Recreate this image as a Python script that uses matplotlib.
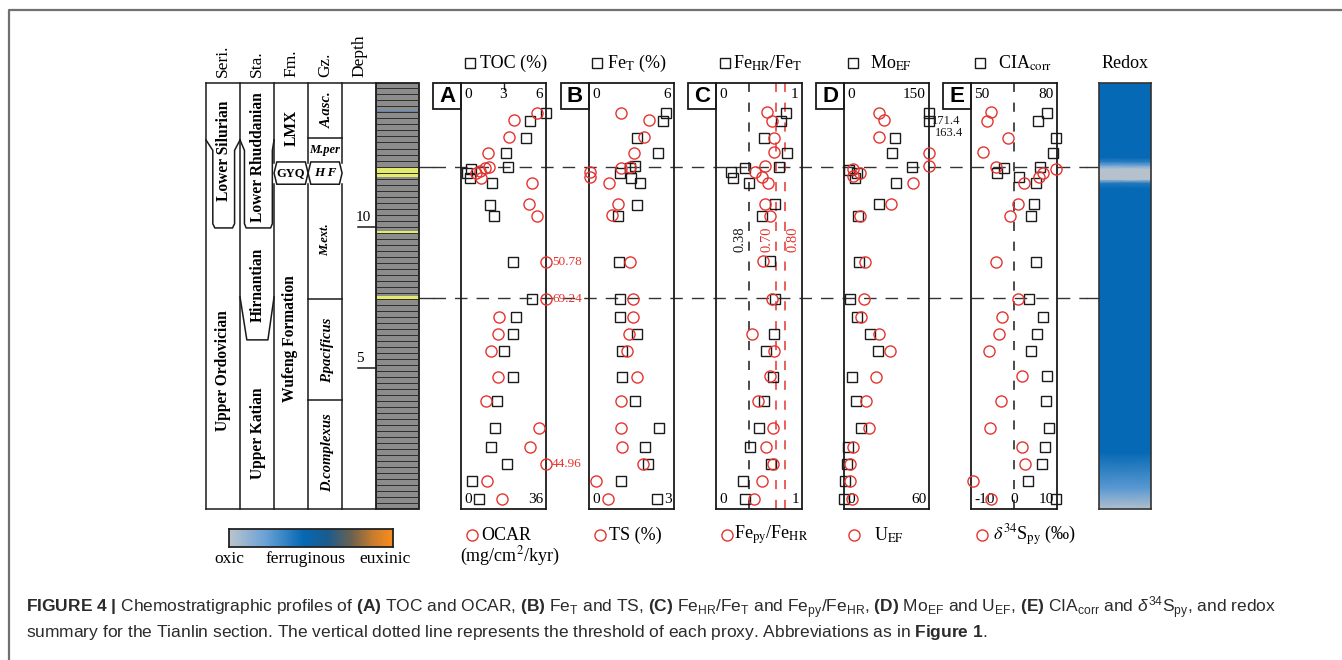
import numpy as np
import matplotlib
matplotlib.use('Agg')
import matplotlib.pyplot as plt
from matplotlib.colors import LinearSegmentedColormap
from matplotlib.patches import Polygon, Rectangle

W, H = 1342, 660
Y_TOP, Y_BOT = 83, 508.5      # pixel rows of the section top / bottom
D_TOP = 15.09                 # depth (m) at the top of the section

# ---- values (depth in m) ----
toc_depth = [14.04, 13.75, 13.15, 12.62, 12.12, 12.03, 11.91, 11.71, 11.53, 10.76, 10.38, 8.75,
             7.43, 6.80, 6.18, 5.60, 4.67, 3.81, 2.84, 2.19, 1.57, 0.98, 0.35]
toc = [6.05, 4.9, 4.6, 3.15, 3.3, 0.7, 0.4, 0.6, 2.2, 2.05, 2.3, 3.65,
       5.0, 3.85, 3.7, 3.05, 3.7, 2.55, 2.4, 2.1, 3.25, 0.8, 1.3]
ocar_depth = [14.04, 13.77, 13.17, 12.62, 12.12, 12.06, 11.97, 11.89, 11.71, 11.55, 10.79, 10.38,
              8.75, 7.43, 6.80, 6.18, 5.60, 4.67, 3.81, 2.84, 2.19, 1.57, 0.98, 0.33]
ocar = [32.0, 22.4, 20.5, 11.6, 12.0, 10.2, 8.0, 6.4, 8.5, 29.9, 28.8, 32.0,
        50.78, 69.24, 16.1, 15.8, 12.8, 15.7, 10.7, 33.0, 29.2, 44.96, 11.1, 17.2]

fet_depth = [14.04, 13.75, 13.15, 12.62, 12.14, 12.06, 11.91, 11.73, 11.53, 10.76, 10.38, 8.75,
             7.43, 6.80, 6.18, 5.60, 4.67, 3.81, 2.84, 2.19, 1.57, 0.98, 0.35]
fet = [5.4, 5.25, 3.37, 4.9, 3.25, 2.9, 2.2, 2.95, 3.6, 3.37, 2.07, 2.14,
       2.19, 2.19, 3.41, 2.33, 2.31, 3.25, 4.96, 3.98, 4.14, 2.26, 4.78]
ts_depth = [14.04, 13.77, 13.17, 12.62, 12.12, 12.06, 11.92, 11.74, 11.53, 10.79, 10.41, 8.75,
            7.43, 6.80, 6.18, 5.60, 4.67, 3.81, 2.84, 2.19, 1.57, 0.98, 0.33]
ts = [1.13, 2.13, 1.94, 1.59, 1.45, 1.12, 0.04, 0.04, 0.71, 1.01, 0.8, 1.45,
      1.56, 1.54, 1.42, 1.35, 1.69, 1.12, 1.13, 1.15, 1.92, 0.24, 0.68]

fehr_depth = [14.04, 13.75, 13.15, 12.62, 12.12, 12.06, 11.94, 11.71, 11.53, 10.79, 10.38, 8.77,
              7.43, 6.18, 5.60, 4.67, 3.81, 2.84, 2.19, 1.57, 0.98, 0.35]
fehr = [0.81, 0.76, 0.56, 0.83, 0.73, 0.34, 0.18, 0.2, 0.38, 0.69, 0.54, 0.63,
        0.69, 0.68, 0.58, 0.66, 0.56, 0.5, 0.39, 0.64, 0.31, 0.34]
fepy_depth = [14.07, 13.75, 13.15, 12.63, 12.14, 11.94, 11.74, 11.55, 10.79, 10.38, 8.77,
              7.43, 6.18, 5.60, 4.70, 3.81, 2.84, 2.19, 1.57, 0.98, 0.33]
fepy = [0.59, 0.655, 0.68, 0.68, 0.57, 0.45, 0.53, 0.61, 0.57, 0.63, 0.55,
        0.655, 0.415, 0.674, 0.628, 0.485, 0.659, 0.578, 0.659, 0.538, 0.442]

mo_depth = [14.04, 13.75, 13.15, 12.62, 12.12, 12.00, 11.91, 11.73, 11.53, 10.79, 10.38, 8.75,
            7.43, 6.80, 6.18, 5.60, 4.67, 3.81, 2.84, 2.19, 1.57, 0.98, 0.35]
mo = [171.4, 163.4, 90.5, 85.2, 120.5, 8.8, 22.4, 19.4, 91.8, 61.2, 24.2, 26.5,
      10.6, 22.4, 45.9, 60.6, 13.6, 21.2, 30.0, 6.5, 4.7, 1.2, 0.6]
u_depth = [14.04, 13.78, 13.17, 12.62, 12.14, 12.03, 11.91, 11.80, 11.55, 10.79, 10.38, 8.75,
           7.43, 6.80, 6.18, 5.60, 4.67, 3.81, 2.84, 2.19, 1.57, 0.98, 0.33]
u = [24.9, 28.0, 24.7, 60.0, 60.0, 6.1, 11.3, 6.6, 48.9, 33.2, 11.3, 14.8,
     14.3, 12.0, 24.7, 32.5, 22.4, 15.3, 17.9, 6.1, 4.2, 4.2, 5.4]

cia_depth = [14.04, 13.75, 13.15, 12.62, 12.12, 12.06, 11.91, 11.74, 11.53, 10.79, 10.38, 8.75,
             7.43, 6.80, 6.18, 5.60, 4.70, 3.81, 2.84, 2.19, 1.57, 0.98, 0.33]
cia = [76.4, 73.5, 79.7, 78.5, 74.1, 61.5, 59.0, 66.8, 72.7, 72.1, 70.8, 72.7,
       70.2, 75.2, 72.9, 70.8, 76.6, 76.2, 77.1, 75.7, 74.8, 70.0, 79.5]
d34s_depth = [14.05, 13.75, 13.15, 12.63, 12.12, 12.03, 11.89, 11.77, 11.53, 10.79, 10.38, 8.75,
              7.43, 6.80, 6.18, 5.60, 4.70, 3.81, 2.84, 2.19, 1.57, 0.98, 0.33]
d34s = [-5.4, -6.35, -1.5, -7.3, -4.3, 9.8, 6.8, 5.8, 2.3, 1.0, -0.9, -4.2,
        1.0, -2.9, -3.6, -5.8, 1.8, -3.1, -5.5, 1.9, 2.5, -9.5, -5.35]

feratio_thresholds = [0.38, 0.70, 0.80]
boundary_depth = [12.12, 7.45]          # dashed correlation lines

# redox summary (0 = oxic, 0.45 = ferruginous, 1 = euxinic)
redox_depth = [0.0, 0.7, 2.0, 11.35, 11.55, 11.68, 12.05, 12.18, 12.3, 12.45, D_TOP]
redox_index = [0.03, 0.25, 0.45, 0.45, 0.38, 0.02, 0.02, 0.22, 0.36, 0.45, 0.45]

# lithology colour bands: (bottom, top, colour)
band_lo = [14.01, 11.77, 9.73, 7.43]
band_hi = [14.11, 12.09, 9.84, 7.55]
band_col = ['#4f86c6', '#e4ea6c', '#e4ea6c', '#e4ea6c']

RED = '#e3342f'
BLK = '#1a1a1a'
SERIF = ['Liberation Serif', 'DejaVu Serif']
SANS = ['Liberation Sans', 'DejaVu Sans']

plt.rcParams['font.family'] = SERIF
plt.rcParams['mathtext.fontset'] = 'custom'
plt.rcParams['mathtext.rm'] = 'Liberation Sans'
plt.rcParams['mathtext.bf'] = 'Liberation Sans:bold'
plt.rcParams['mathtext.it'] = 'Liberation Sans:italic'

redox_cmap = LinearSegmentedColormap.from_list('redox', [
    (0.00, '#bcc4cc'), (0.22, '#6aa2d6'), (0.45, '#0669b5'), (0.60, '#1b5c8e'),
    (0.75, '#6b6250'), (0.88, '#c97c2d'), (1.00, '#fb8d1c')])

fig = plt.figure(figsize=(W / 100, H / 100), dpi=100)


def px_axes(x0, y0, x1, y1):
    return fig.add_axes([x0 / W, 1 - y1 / H, (x1 - x0) / W, (y1 - y0) / H])


# overlay in pixel coordinates (frame, headers, caption)
ov = px_axes(0, 0, W, H)
ov.set_xlim(0, W)
ov.set_ylim(H, 0)
ov.axis('off')
ov.plot([9, 9, W], [H, 10, 10], color='#707070', lw=1.6, clip_on=False)

# dashed correlation lines
axl = px_axes(419, Y_TOP, 1099, Y_BOT)
axl.set_xlim(0, 1)
axl.set_ylim(0, D_TOP)
axl.axis('off')
for d in boundary_depth:
    axl.plot([0, 0.02], [d, d], color='#333333', lw=1)
    axl.plot([0.02, 0.982], [d, d], color='#333333', lw=1, dashes=(9, 6.5))
    axl.plot([0.982, 1], [d, d], color='#333333', lw=1)

# ---- stratigraphic column ----
ax_s = px_axes(206, Y_TOP, 419, Y_BOT)
ax_s.set_xlim(0, 6.26)
ax_s.set_ylim(0, D_TOP)
ax_s.axis('off')
kw = dict(color=BLK, lw=1.1, clip_on=False)

ax_s.add_patch(Rectangle((5, 0), 1.26, D_TOP, fc='#8c8c8c', ec='none'))
ax_s.hlines(np.arange(0.2, D_TOP, 0.213), 5, 6.26, color='#2e2e2e', lw=0.7)
for lo, hi, c in zip(band_lo, band_hi, band_col):
    ax_s.add_patch(Rectangle((5, lo), 1.26, hi - lo, fc=c, ec='none'))
ax_s.add_patch(Rectangle((5, 0), 1.26, D_TOP, fill=False, ec=BLK, lw=1.3, clip_on=False))

gyq_lo, gyq_hi = 11.5, 12.29
ax_s.plot([0, 5], [0, 0], **kw)
ax_s.plot([0, 5], [D_TOP, D_TOP], **kw)
for x in [0, 1]:
    ax_s.plot([x, x], [0, D_TOP], **kw)
for x in [2, 3, 4]:
    ax_s.plot([x, x], [0, gyq_lo + 0.02], **kw)
    ax_s.plot([x, x], [gyq_hi - 0.02, D_TOP], **kw)
mid = (gyq_lo + gyq_hi) / 2
for c0 in [2, 3]:
    ax_s.add_patch(Polygon([(c0, mid), (c0 + 0.08, gyq_hi), (c0 + 0.92, gyq_hi), (c0 + 1, mid),
                            (c0 + 0.92, gyq_lo), (c0 + 0.08, gyq_lo)],
                           closed=True, fill=False, ec=BLK, lw=1.1, clip_on=False))

# series / stage boundaries (gradational wedges)
ax_s.plot([0, 0.2, 0.2, 0.26, 0.78, 0.84, 0.84, 1],
          [13.07, 12.7, 10.1, 9.95, 9.95, 10.1, 12.7, 13.07], **kw)
ax_s.plot([1, 1.13, 1.13, 1.18, 1.9, 1.95, 1.95, 2],
          [13.07, 12.7, 10.1, 9.95, 9.95, 10.1, 12.7, 13.07], **kw)
ax_s.plot([1, 1.2, 1.82, 2], [7.5, 5.98, 5.98, 7.5], **kw)
for d in [13.15, 7.43, 3.85]:
    ax_s.plot([3, 4], [d, d], **kw)

bold = dict(ha='center', va='center', fontsize=11.2, weight='bold', rotation=90)
ax_s.text(0.53, 12.7, 'Lower Silurian', **bold)
ax_s.text(0.5, 4.9, 'Upper Ordovician', **bold)
ax_s.text(1.53, 12.45, 'Lower Rhuddanian', **bold)
ax_s.text(1.53, 7.92, 'Hirnantian', **bold)
ax_s.text(1.53, 2.67, 'Upper Katian', **bold)
ax_s.text(2.53, 13.5, 'LMX', **bold)
ax_s.text(2.47, 6.02, 'Wufeng Formation', **bold)
ax_s.text(2.5, mid, 'GYQ', ha='center', va='center', fontsize=9, weight='bold')
ax_s.text(3.5, mid, 'H F', ha='center', va='center', fontsize=9.5, weight='bold', style='italic')
ax_s.text(3.5, 12.71, 'M.per', ha='center', va='center', fontsize=9, weight='bold', style='italic')
ital = dict(ha='center', va='center', weight='bold', style='italic', rotation=90)
ax_s.text(3.56, 14.13, 'A.asc.', fontsize=10.5, **ital)
ax_s.text(3.5, 9.52, 'M.ext.', fontsize=9, **ital)
ax_s.text(3.56, 5.62, 'P.pacificus', fontsize=10.5, **ital)
ax_s.text(3.56, 1.97, 'D.complexus', fontsize=10.5, **ital)

for d in [10, 5]:
    ax_s.plot([4.47, 5], [d, d], **kw)
ax_s.text(4.62, 10.33, '10', ha='center', va='center', fontsize=11)
ax_s.text(4.53, 5.33, '5', ha='center', va='center', fontsize=11)

for x, lab in zip([223, 257, 291, 325, 359], ['Seri.', 'Sta.', 'Fm.', 'Gz.', 'Depth']):
    ov.text(x, 77, lab, rotation=90, ha='center', va='bottom', fontsize=12.5)


# ---- geochemical panels ----
def panel(x0, x1, letter, sq_d, sq_v, sq_lim, ci_d, ci_v, ci_lim, top_lab, bot_lab):
    ax = px_axes(x0, Y_TOP, x1, Y_BOT)
    ax.set_facecolor('none')
    ax.set_xlim(*sq_lim)
    ax.set_ylim(0, D_TOP)
    ax.set_xticks([])
    ax.set_yticks([])
    for s in ax.spines.values():
        s.set_linewidth(1.3)
        s.set_color(BLK)
    ax.plot(np.minimum(sq_v, sq_lim[1]), sq_d, 's', ms=6.5, mfc='none', mec=BLK, mew=1.0,
            clip_on=False, zorder=3)
    ax2 = ax.twiny()
    ax2.set_xlim(*ci_lim)
    ax2.set_xticks([])
    for s in ax2.spines.values():
        s.set_visible(False)
    ax2.plot(np.minimum(ci_v, ci_lim[1]), ci_d, 'o', ms=8, mfc='none', mec=RED, mew=1.0,
             clip_on=False, zorder=3)
    for fx, t in top_lab:
        ha = 'left' if fx < 0.3 else ('right' if fx > 0.7 else 'center')
        ax.text(fx, 0.988, t, transform=ax.transAxes, ha=ha, va='top', fontsize=11)
    for fx, t in bot_lab:
        ha = 'left' if fx < 0.3 else ('right' if fx > 0.7 else 'center')
        ax.text(fx, 0.006, t, transform=ax.transAxes, ha=ha, va='bottom', fontsize=11)
    ov.add_patch(Rectangle((x0 - 28, Y_TOP), 28, 26, fill=False, ec=BLK, lw=1.3))
    ov.text(x0 - 14, Y_TOP + 13.5, letter, ha='center', va='center', fontsize=16,
            weight='bold', family=SANS)
    return ax, ax2


axA, axA2 = panel(461, 546, 'A', toc_depth, toc, (0, 6), ocar_depth, ocar, (0, 36),
                  [(0.04, '0'), (0.5, '3'), (0.96, '6')], [(0.04, '0'), (0.97, '36')])
axA.axvline(3, ymin=0.985, ymax=1, color=BLK, lw=1)
for d, v in zip(ocar_depth, ocar):
    if v > 36:
        axA2.annotate(f'{v:.2f}', (36, d), xytext=(4.5, 0), textcoords='offset points',
                      va='center', ha='left', color=RED, fontsize=9.5, annotation_clip=False)

panel(589, 674, 'B', fet_depth, fet, (0, 6), ts_depth, ts, (0, 3),
      [(0.04, '0'), (0.96, '6')], [(0.04, '0'), (0.98, '3')])

axC, axC2 = panel(716, 802, 'C', fehr_depth, fehr, (0, 1), fepy_depth, fepy, (0, 1),
                  [(0.04, '0'), (0.96, '1')], [(0.04, '0'), (0.97, '1')])
for thr, col, lx in zip(feratio_thresholds, [BLK, RED, RED], [0.28, 0.595, 0.895]):
    axC.axvline(thr, color=col, lw=1.1, dashes=(6, 7), zorder=1)
    axC.text(lx, 9.55, f'{thr:.2f}', rotation=90, ha='center', va='center', color=col,
             fontsize=10.5)

axD, axD2 = panel(844, 929, 'D', mo_depth, mo, (0, 150), u_depth, u, (0, 60),
                  [(0.04, '0'), (0.96, '150')], [(0.04, '0'), (0.97, '60')])
off_xy = [(2, -6), (4, -9)]
k = 0
for d, v in zip(mo_depth, mo):
    if v > 150:
        axD.annotate(f'{v:.1f}', (150, d), xytext=off_xy[k], textcoords='offset points',
                     va='center', ha='left', color=BLK, fontsize=9, annotation_clip=False)
        k += 1

axE, axE2 = panel(971, 1057, 'E', cia_depth, cia, (50, 80), d34s_depth, d34s, (-10, 10),
                  [(0.04, '50'), (0.96, '80')], [(0.04, '-10'), (0.5, '0'), (0.97, '10')])
axE2.axvline(0, color=BLK, lw=1.1, dashes=(6, 7), zorder=1)

# ---- panel headers ----
hdr = dict(fontsize=13, va='center', ha='left', math_fontfamily='stix')
for mx, tx, t in [(470, 480, 'TOC (%)'), (597, 607, r'Fe$_\mathrm{T}$ (%)'),
                  (725, 733, r'Fe$_\mathrm{HR}$/Fe$_\mathrm{T}$'), (853, 870, r'Mo$_\mathrm{EF}$'),
                  (980, 998, r'CIA$_\mathrm{corr}$')]:
    ov.plot(mx, 63, 's', ms=7.5, mfc='none', mec=BLK, mew=1.0)
    ov.text(tx, 63, t, **hdr)
ov.text(1125, 63, 'Redox', fontsize=13, ha='center', va='center')

for mx, tx, t in [(472, 481, 'OCAR'), (600, 609, 'TS (%)'),
                  (727, 734, r'Fe$_\mathrm{py}$/Fe$_\mathrm{HR}$'), (854, 874, r'U$_\mathrm{EF}$'),
                  (982, 993, r'$\delta^{34}$S$_\mathrm{py}$ (‰)')]:
    ov.plot(mx, 535, 'o', ms=8, mfc='none', mec=RED, mew=1.0)
    ov.text(tx, 535, t, **hdr)
ov.text(510, 556, r'(mg/cm$^2$/kyr)', fontsize=13, ha='center', va='center',
        math_fontfamily='stix')

# ---- redox summary bar ----
axr = px_axes(1099, Y_TOP, 1151, 509)
xx, yy = np.meshgrid([0, 1], redox_depth)
cc = np.column_stack([redox_index, redox_index])
axr.pcolormesh(xx, yy, cc, cmap=redox_cmap, vmin=0, vmax=1, shading='gouraud')
axr.set_xlim(0, 1)
axr.set_ylim(0, D_TOP)
axr.set_xticks([])
axr.set_yticks([])
for s in axr.spines.values():
    s.set_linewidth(1.2)
    s.set_color('#333333')

# ---- redox legend bar ----
axg = px_axes(229, 529, 393, 547)
axg.imshow(np.linspace(0, 1, 256)[None, :], aspect='auto', cmap=redox_cmap,
           extent=(0, 1, 0, 1))
axg.set_xticks([])
axg.set_yticks([])
for s in axg.spines.values():
    s.set_linewidth(1.3)
    s.set_color('#222222')
for x, t in zip([229, 306, 385.5], ['oxic', 'ferruginous', 'euxinic']):
    ov.text(x, 559, t, fontsize=12.5, ha='center', va='center')

# ---- caption ----
cap1 = (r'$\mathbf{FIGURE\ 4\ |}$ Chemostratigraphic profiles of $\mathbf{(A)}$ TOC and OCAR, '
        r'$\mathbf{(B)}$ Fe$_\mathrm{T}$ and TS, $\mathbf{(C)}$ Fe$_\mathrm{HR}$/Fe$_\mathrm{T}$ and '
        r'Fe$_\mathrm{py}$/Fe$_\mathrm{HR}$, $\mathbf{(D)}$ Mo$_\mathrm{EF}$ and U$_\mathrm{EF}$, '
        r'$\mathbf{(E)}$ CIA$_\mathrm{corr}$ and $\delta^{34}$S$_\mathrm{py}$, and redox')
cap2 = (r'summary for the Tianlin section. The vertical dotted line represents the threshold of '
        r'each proxy. Abbreviations as in $\mathbf{Figure\ 1}$.')
ov.text(26, 608, cap1, fontsize=12.5, family=SANS, color='#2b2b2b', va='center', ha='left')
ov.text(26, 633, cap2, fontsize=12.5, family=SANS, color='#2b2b2b', va='center', ha='left')

fig.savefig('out.png', dpi=100)
